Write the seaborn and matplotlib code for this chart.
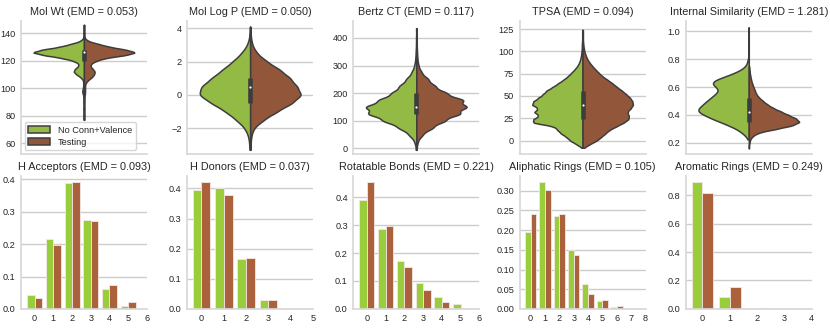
import matplotlib
matplotlib.use("Agg")
import matplotlib.pyplot as plt
import numpy as np
import pandas as pd
import seaborn as sns

GROUPS = ["No Conn+Valence", "Testing"]

# --- continuous properties: value grid + relative frequency
molwt_vals = [77, 80, 85, 90, 93, 96, 98, 100, 102, 104, 106, 108, 110, 112, 114, 116,
              118, 120, 122, 124, 126, 128, 130, 132, 134, 136, 140, 146]
molwt_a = [1, 1, 1, 1, 1, 4, 5, 3, 2, 2, 3, 10, 22, 30, 26, 16,
           16, 32, 65, 115, 150, 120, 70, 40, 12, 3, 1, 1]
molwt_b = [1, 1, 1, 1, 1, 3, 3, 3, 3, 5, 12, 22, 28, 30, 24, 17,
           20, 35, 60, 115, 145, 115, 70, 42, 13, 3, 1, 1]

logp_vals = [-3.3, -3.0, -2.5, -2.0, -1.5, -1.0, -0.5, 0.0, 0.5, 1.0, 1.5, 2.0, 2.5, 3.0, 3.5, 4.1]
logp_a = [1, 2, 5, 15, 40, 70, 110, 148, 140, 110, 80, 50, 25, 8, 2, 1]
logp_b = [1, 1, 3, 10, 40, 80, 125, 155, 140, 120, 90, 50, 20, 6, 2, 1]

bertz_vals = [-5, 25, 50, 75, 100, 125, 150, 175, 200, 225, 250, 275, 300, 325, 350, 375, 400, 435]
bertz_a = [2, 6, 22, 52, 97, 142, 150, 110, 72, 50, 30, 14, 6, 3, 2, 1, 1, 1]
bertz_b = [1, 4, 18, 48, 83, 128, 148, 138, 88, 55, 35, 15, 6, 3, 2, 1, 1, 1]

tpsa_vals = [-8, -4, 0, 4, 8, 12, 16, 20, 24, 28, 32, 36, 40, 44, 48, 52, 56, 60, 64,
             68, 72, 76, 80, 84, 88, 92, 96, 100, 104, 108, 112, 116, 120, 124]
tpsa_a = [2, 18, 36, 46, 62, 72, 80, 145, 140, 122, 140, 124, 145, 140, 125, 112, 103, 85, 70,
          55, 42, 32, 22, 14, 9, 6, 4, 3, 2, 2, 1, 1, 1, 1]
tpsa_b = [3, 20, 40, 52, 64, 75, 95, 115, 130, 130, 124, 135, 142, 140, 133, 122, 110, 96, 84,
          70, 55, 45, 35, 26, 18, 12, 8, 5, 3, 2, 1, 1, 1, 1]

sim_vals = [0.16, 0.2, 0.225, 0.25, 0.275, 0.3, 0.325, 0.35, 0.375, 0.4, 0.425, 0.45, 0.475,
            0.5, 0.525, 0.55, 0.575, 0.6, 0.625, 0.65, 0.675, 0.7, 0.725, 0.75, 0.775,
            0.8, 0.85, 0.9, 0.95, 1.03]
sim_a = [0, 0, 2, 6, 14, 23, 38, 53, 70, 83, 96, 93, 85, 78, 70, 62, 55, 60, 70, 64, 45, 28,
         14, 6, 3, 2, 1, 1, 1, 1]
sim_b = [1, 2, 4, 12, 30, 82, 130, 152, 140, 117, 95, 72, 55, 42, 30, 22, 18, 14, 10, 7, 5, 3,
         2, 1, 0, 0, 0, 0, 0, 0]

violin_titles = ["Mol Wt (EMD = 0.053)", "Mol Log P (EMD = 0.050)", "Bertz CT (EMD = 0.117)",
                 "TPSA (EMD = 0.094)", "Internal Similarity (EMD = 1.281)"]

# --- discrete properties: fraction of molecules per count
hacc_k = [0, 1, 2, 3, 4, 5]
hacc_a = [0.043, 0.216, 0.388, 0.274, 0.061, 0.010]
hacc_b = [0.034, 0.198, 0.392, 0.272, 0.074, 0.021]

hdon_k = [0, 1, 2, 3, 4]
hdon_a = [0.393, 0.402, 0.167, 0.030, 0.002]
hdon_b = [0.421, 0.378, 0.168, 0.030, 0.001]

rot_k = [0, 1, 2, 3, 4, 5]
rot_a = [0.388, 0.287, 0.171, 0.091, 0.044, 0.018]
rot_b = [0.454, 0.298, 0.151, 0.067, 0.026, 0.004]

ali_k = [0, 1, 2, 3, 4, 5, 6, 7]
ali_a = [0.194, 0.322, 0.237, 0.149, 0.063, 0.021, 0.004, 0.001]
ali_b = [0.242, 0.303, 0.240, 0.138, 0.038, 0.023, 0.008, 0.0005]

aro_k = [0, 1, 2, 3]
aro_a = [0.892, 0.085, 0.001, 0.0]
aro_b = [0.816, 0.155, 0.005, 0.0]

bar_titles = ["H Acceptors (EMD = 0.093)", "H Donors (EMD = 0.037)",
              "Rotatable Bonds (EMD = 0.221)", "Aliphatic Rings (EMD = 0.105)",
              "Aromatic Rings (EMD = 0.249)"]


def violin_frame(vals, ca, cb):
    a = pd.DataFrame({"value": np.repeat(vals, ca), "set": GROUPS[0]})
    b = pd.DataFrame({"value": np.repeat(vals, cb), "set": GROUPS[1]})
    return pd.concat([a, b], ignore_index=True)


def bar_frame(k, fa, fb):
    a = pd.DataFrame({"k": k, "frac": fa, "set": GROUPS[0]})
    b = pd.DataFrame({"k": k, "frac": fb, "set": GROUPS[1]})
    return pd.concat([a, b], ignore_index=True)


def draw_box(ax, values, color="#3d3d3d"):
    # one box for both halves, like the old split-violin style
    q1, med, q3 = np.percentile(values, [25, 50, 75])
    ax.vlines(0, q1, q3, color=color, lw=3.3, zorder=3)
    ax.scatter([0], [med], s=2.5, color="white", zorder=4, linewidths=0)


violins = [violin_frame(molwt_vals, molwt_a, molwt_b),
           violin_frame(logp_vals, logp_a, logp_b),
           violin_frame(bertz_vals, bertz_a, bertz_b),
           violin_frame(tpsa_vals, tpsa_a, tpsa_b),
           violin_frame(sim_vals, sim_a, sim_b)]
bars = [bar_frame(hacc_k, hacc_a, hacc_b),
        bar_frame(hdon_k, hdon_a, hdon_b),
        bar_frame(rot_k, rot_a, rot_b),
        bar_frame(ali_k, ali_a, ali_b),
        bar_frame(aro_k, aro_a, aro_b)]

sns.set_theme(style="whitegrid")
plt.rcParams["font.family"] = ["Liberation Sans", "DejaVu Sans"]

violin_pal = {GROUPS[0]: "yellowgreen", GROUPS[1]: "sienna"}
bar_pal = {GROUPS[0]: "#9acd3c", GROUPS[1]: "#ab613c"}

fig, axes = plt.subplots(2, 5, figsize=(8.3, 3.29), dpi=100)
fig.subplots_adjust(left=0.0253, right=0.978, top=0.937, bottom=0.061,
                    wspace=0.32, hspace=0.163)

v_ylims = [(52.2, 149), (-3.55, 4.46), (-20, 462), (-15, 134.3), (0.12, 1.077)]
v_yticks = [[60, 80, 100, 120, 140], [-2, 0, 2, 4], [0, 100, 200, 300, 400],
            [0, 25, 50, 75, 100, 125], [0.2, 0.4, 0.6, 0.8, 1.0]]
v_bw = [0.13, 0.25, 0.2, 0.1, 0.15]

for i, ax in enumerate(axes[0]):
    sns.violinplot(data=violins[i], y="value", hue="set", split=True, palette=violin_pal,
                   bw_method=v_bw[i], cut=0, linewidth=1.1, inner=None,
                   linecolor="#3d3d3d", legend=(i == 0), ax=ax)
    draw_box(ax, violins[i]["value"])
    ax.set_title(violin_titles[i], fontsize=7.8, pad=4)
    ax.set_ylim(v_ylims[i])
    ax.set_yticks(v_yticks[i])
    ax.set_xticks([])
    ax.set_xlim(-0.5, 0.5)
    ax.set_xlabel("")
    ax.set_ylabel("")
    if i == 0:
        ax.legend(loc="lower left", fontsize=6.6, frameon=True, borderpad=0.4,
                  handlelength=2.4, labelspacing=0.3, borderaxespad=0.4)

b_xlims = [(-0.73, 6), (-0.64, 5), (-0.71, 6), (-0.77, 8), (-0.61, 4)]
for i, ax in enumerate(axes[1]):
    sns.barplot(data=bars[i], x="k", y="frac", hue="set", native_scale=True,
                palette=bar_pal, saturation=1, edgecolor="#f3e8e4", linewidth=0.6,
                legend=False, ax=ax)
    ax.set_title(bar_titles[i], fontsize=7.8, pad=4)
    ax.set_xlim(b_xlims[i])
    ax.set_xticks(range(0, int(b_xlims[i][1]) + 1))
    ax.set_xlabel("")
    ax.set_ylabel("")

for ax in axes.flat:
    sns.despine(ax=ax)
    ax.grid(axis="x", visible=False)
    ax.tick_params(labelsize=6.6, length=0, pad=4)
    for s in ax.spines.values():
        s.set_color("#d8d8d8")

fig.savefig("out.png", dpi=100)
